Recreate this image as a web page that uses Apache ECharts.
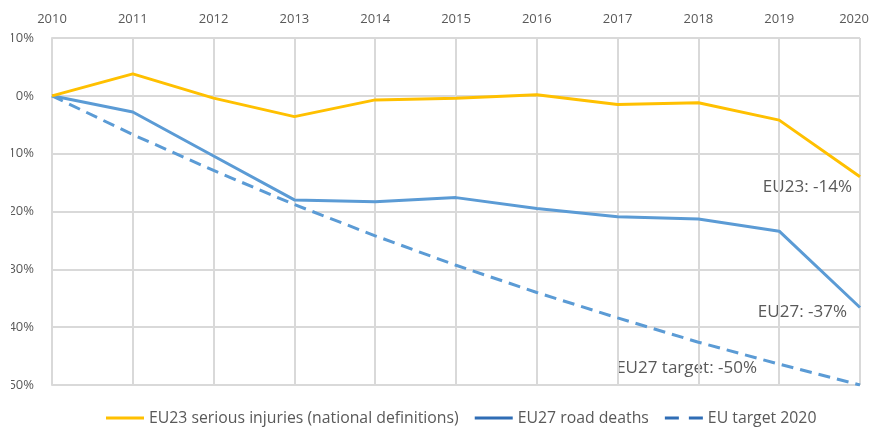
<!DOCTYPE html>
<html>
<head>
<meta charset="utf-8">
<script src="https://cdn.jsdelivr.net/npm/echarts@6/dist/echarts.min.js"></script>
<style>
  html, body { margin: 0; padding: 0; background: #fff; overflow: hidden; }
  /* the original picture cuts the y labels on the left, so the canvas starts a bit in */
  #chart { position: absolute; left: 11px; top: 0; width: 862px; height: 430px; }
</style>
</head>
<body>
<div id="chart"></div>
<script>
const years = ['2010', '2011', '2012', '2013', '2014', '2015', '2016', '2017', '2018', '2019', '2020'];
const seriousInjuries = [0, 3.8, -0.4, -3.6, -0.7, -0.4, 0.2, -1.5, -1.2, -4.2, -14];
const roadDeaths = [0, -2.8, -10.4, -18.0, -18.3, -17.6, -19.5, -20.9, -21.3, -23.4, -36.6];
const target2020 = [0, -6.7, -12.9, -18.8, -24.2, -29.3, -34.0, -38.4, -42.6, -46.4, -50];
const yTicks = [10, 0, -10, -20, -30, -40, -50];

const grey = '#595959';
const gridGrey = '#d9d9d9';
const font = '"Open Sans", sans-serif';

const chart = echarts.init(document.getElementById('chart'));

let option = {
    animation: false,
    // labels are allowed to spill out of the canvas (they get cut, like the original)
    grid: { left: 41, right: 13, top: 38, bottom: 45, containLabel: false, outerBoundsMode: 'none' },
    xAxis: {
        type: 'category',
        data: years,
        position: 'top',
        boundaryGap: false,
        axisLine: { show: false },
        axisTick: { show: false },
        axisLabel: {
            color: grey, fontSize: 13, fontFamily: font, margin: 12, interval: 0,
            // last year label is pushed a bit left so it stays inside
            formatter: function (v, i) {
                return i === years.length - 1 ? '{last|' + v + '}' : v;
            },
            rich: {
                last: { color: grey, fontSize: 13, fontFamily: font, padding: [0, 12, 0, 0] }
            }
        },
        splitLine: { show: true, lineStyle: { color: gridGrey, width: 2 } }
    },
    yAxis: {
        type: 'value',
        min: yTicks[yTicks.length - 1],
        max: yTicks[0],
        interval: 10,
        axisLine: { show: true, lineStyle: { color: gridGrey, width: 2 } },
        axisTick: { show: false },
        axisLabel: { color: grey, fontSize: 13, fontFamily: font, margin: 18, formatter: '{value}%' },
        splitLine: { show: true, lineStyle: { color: gridGrey, width: 2 } }
    },
    legend: {
        top: 410,
        left: 95,
        padding: 0,
        itemWidth: 38,
        itemHeight: 3,
        itemGap: 16,
        textStyle: { color: grey, fontSize: 15.8, fontFamily: font },
        data: [
            { name: 'EU23 serious injuries (national definitions)', icon: 'rect', itemStyle: { color: '#ffc000' } },
            { name: 'EU27 road deaths', icon: 'rect', itemStyle: { color: '#2f6db5' } },
            { name: 'EU target 2020', icon: 'path://M0,0H14V3H0Z M24,0H38V3H24Z', itemStyle: { color: '#2f6db5' } }
        ]
    },
    series: [
        {
            name: 'EU23 serious injuries (national definitions)',
            type: 'line',
            data: seriousInjuries,
            symbol: 'none',
            itemStyle: { color: '#ffc000' },
            lineStyle: { color: '#ffc000', width: 3 },
            z: 3
        },
        {
            name: 'EU27 road deaths',
            type: 'line',
            data: roadDeaths,
            symbol: 'none',
            itemStyle: { color: '#2f6db5' },
            lineStyle: { color: '#5b9bd5', width: 3 },
            z: 2
        },
        {
            name: 'EU target 2020',
            type: 'line',
            data: target2020,
            symbol: 'none',
            itemStyle: { color: '#2f6db5' },
            lineStyle: { color: '#5b9bd5', width: 3, type: [12, 7] },
            z: 2
        }
    ],
    graphic: [
        { type: 'text', right: 21, top: 179, style: { text: 'EU23: -14%', fill: grey, font: '17px ' + font } },
        { type: 'text', right: 26, top: 304, style: { text: 'EU27: -37%', fill: grey, font: '17px ' + font } },
        { type: 'text', right: 116, top: 360, style: { text: 'EU27 target: -50%', fill: grey, font: '17px ' + font } }
    ]
};

chart.setOption(option);
</script>
</body>
</html>
